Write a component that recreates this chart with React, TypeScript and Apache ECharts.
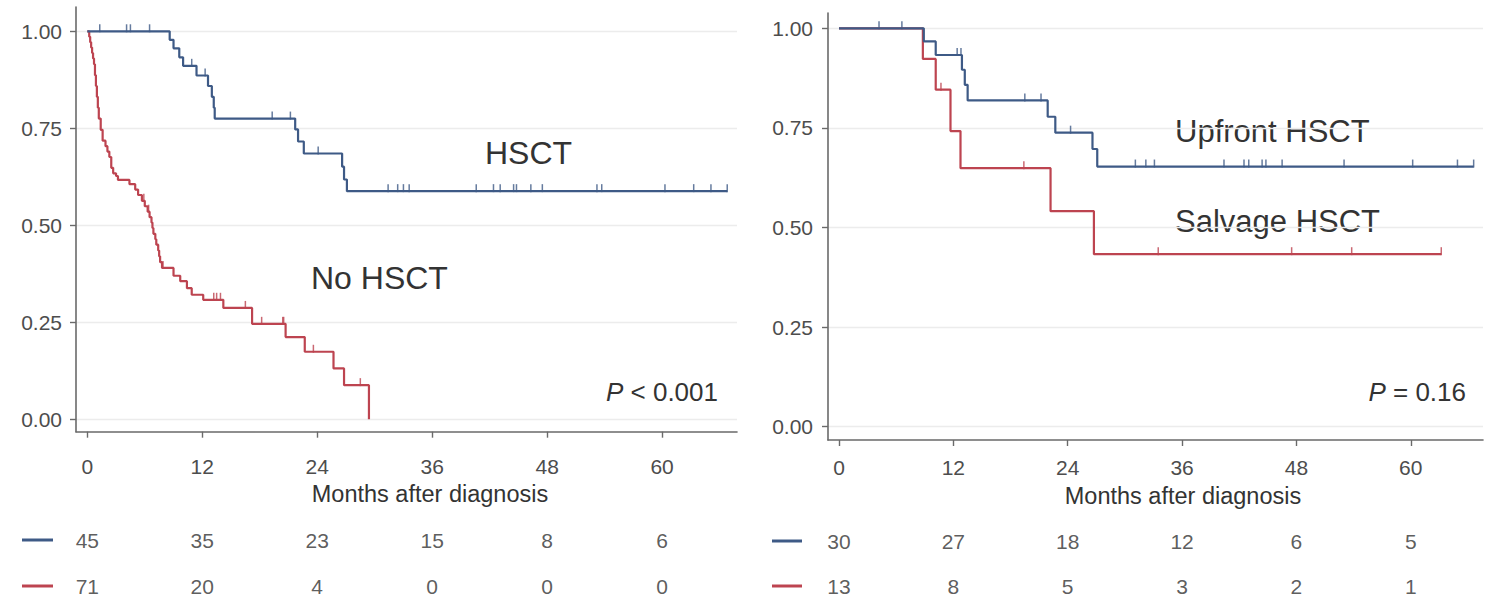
import React, { useEffect, useRef } from "react";
import * as echarts from "echarts";

const monthTicks = [0, 12, 24, 36, 48, 60];
const survTicks = [0, 0.25, 0.5, 0.75, 1];

// Left panel: HSCT vs No HSCT
const hsctT = [0, 8.6, 9.0, 9.6, 10.0, 11.4, 12.6, 13.0, 13.2, 13.3, 21.7, 22.0, 22.6, 26.6, 26.8, 27.1, 66.8];
const hsctS = [1, 0.978, 0.956, 0.933, 0.911, 0.886, 0.859, 0.831, 0.803, 0.775, 0.747, 0.716, 0.685, 0.651, 0.618, 0.588, 0.588];
const hsctCensor = [1.3, 4.1, 4.5, 6.5, 10.9, 12.3, 19.3, 21.2, 24.1, 31.4, 32.4, 33.0, 33.6, 40.6, 42.4, 43.1, 44.5, 44.8, 46.3, 47.5, 53.2, 53.7, 60.3, 63.3, 65.1, 66.8];

const noHsctT = [0, 0.2, 0.3, 0.4, 0.5, 0.6, 0.7, 0.8, 0.9, 1.0, 1.1, 1.2, 1.4, 1.6, 1.9, 2.1, 2.3, 2.5, 2.7, 3.0, 3.2, 4.4, 5.0, 5.3, 5.7, 6.0, 6.3, 6.5, 6.7, 6.8, 6.9, 7.1, 7.2, 7.4, 7.5, 7.6, 7.8, 9.0, 9.7, 10.4, 10.9, 12.1, 14.2, 17.2, 20.7, 22.7, 25.7, 26.8, 29.4];
const noHsctS = [1, 0.986, 0.972, 0.958, 0.944, 0.93, 0.915, 0.887, 0.859, 0.831, 0.803, 0.775, 0.746, 0.718, 0.704, 0.69, 0.676, 0.648, 0.634, 0.627, 0.617, 0.606, 0.592, 0.578, 0.563, 0.549, 0.535, 0.521, 0.507, 0.493, 0.478, 0.464, 0.45, 0.435, 0.42, 0.405, 0.39, 0.37, 0.356, 0.338, 0.321, 0.308, 0.287, 0.246, 0.212, 0.174, 0.131, 0.088, 0];
const noHsctCensor = [5.9, 6.4, 7.9, 13.2, 13.5, 13.9, 16.5, 18.2, 20.4, 20.5, 23.6, 28.5];

// Right panel: Upfront vs Salvage HSCT
const upfrontT = [0, 8.9, 10.15, 12.9, 13.2, 13.5, 21.9, 22.7, 26.6, 27.1, 66.6];
const upfrontS = [1, 0.967, 0.933, 0.896, 0.858, 0.819, 0.778, 0.738, 0.697, 0.653, 0.653];
const upfrontCensor = [4.2, 6.6, 12.4, 12.8, 19.5, 21.2, 24.3, 31.1, 32.2, 33.1, 40.4, 42.5, 43.0, 44.4, 44.8, 46.5, 53.0, 60.2, 64.9, 66.6];

const salvageT = [0, 8.8, 10.15, 11.7, 12.75, 22.2, 26.75, 63.2];
const salvageS = [1, 0.923, 0.846, 0.742, 0.649, 0.541, 0.433, 0.433];
const salvageCensor = [10.7, 19.4, 33.5, 47.5, 53.8, 63.2];

// Numbers at risk
const riskHsct = [45, 35, 23, 15, 8, 6];
const riskNoHsct = [71, 20, 4, 0, 0, 0];
const riskUpfront = [30, 27, 18, 12, 6, 5];
const riskSalvage = [13, 8, 5, 3, 2, 1];

const BLUE = "#3e5a86";
const RED = "#bd4450";
const FONT = "'Liberation Sans', Arial, sans-serif";
const AXIS = "#6a6a6a";

function pairs(t: number[], s: number[]) {
  return t.map((x, i) => [x, s[i]]);
}
function survAt(t: number[], s: number[], x: number) {
  let v = s[0];
  for (let i = 0; i < t.length; i++) if (t[i] <= x) v = s[i];
  return v;
}
function censorPts(c: number[], t: number[], s: number[]) {
  return c.map((x) => [x, survAt(t, s, x)]);
}

function xAxisPlot(gridIndex: number, min: number, max: number, margin: number) {
  return {
    type: "value",
    gridIndex,
    min,
    max,
    axisLine: { show: true, onZero: false, lineStyle: { color: AXIS, width: 1.6 } },
    axisTick: { show: true, length: 6, customValues: monthTicks, lineStyle: { color: AXIS, width: 1.4 } },
    axisLabel: { show: true, customValues: monthTicks, margin, fontSize: 21, color: "#4d4d4d", fontFamily: FONT },
    splitLine: { show: false },
  };
}
function yAxisPlot(gridIndex: number, min: number, max: number, margin: number) {
  return {
    type: "value",
    gridIndex,
    min,
    max,
    axisLine: { show: true, onZero: false, lineStyle: { color: AXIS, width: 1.6 } },
    axisTick: { show: true, length: 6, customValues: survTicks, lineStyle: { color: AXIS, width: 1.4 } },
    axisLabel: {
      show: true,
      customValues: survTicks,
      margin,
      fontSize: 21,
      color: "#4d4d4d",
      fontFamily: FONT,
      formatter: (v: number) => v.toFixed(2),
    },
    splitLine: { show: true, lineStyle: { color: "#ececec", width: 1.3 } },
  };
}
function xAxisRisk(gridIndex: number, min: number, max: number) {
  return { type: "value", gridIndex, min, max, show: false };
}
function yAxisRisk(gridIndex: number) {
  return { type: "value", gridIndex, min: 0, max: 1, show: false };
}
function curve(name: string, xi: number, t: number[], s: number[], color: string) {
  return {
    name,
    type: "line",
    xAxisIndex: xi,
    yAxisIndex: xi,
    step: "end",
    showSymbol: false,
    data: pairs(t, s),
    lineStyle: { color, width: 2.2 },
    itemStyle: { color },
    silent: true,
  };
}
function censor(name: string, xi: number, c: number[], t: number[], s: number[], color: string) {
  return {
    name,
    type: "scatter",
    xAxisIndex: xi,
    yAxisIndex: xi,
    symbol: "rect",
    symbolSize: [1.5, 8],
    symbolOffset: [0, -3],
    data: censorPts(c, t, s),
    itemStyle: { color },
    silent: true,
  };
}
// rowPos: vertical position of the row within the risk-table grid (0 bottom, 1 top)
function riskRow(xi: number, rowPos: number, vals: number[]) {
  return {
    type: "scatter",
    xAxisIndex: xi,
    yAxisIndex: xi,
    symbolSize: 0,
    data: monthTicks.map((m, i) => [m, rowPos, vals[i]]),
    label: {
      show: true,
      position: "inside",
      formatter: (p: any) => String(p.value[2]),
      fontSize: 21,
      color: "#333",
      fontFamily: FONT,
    },
    silent: true,
  };
}
function txt(x: number, y: number, text: string, size: number, align: string, rich?: any) {
  return {
    type: "text",
    x,
    y,
    style: {
      text,
      fontSize: size,
      fontFamily: FONT,
      fill: "#333",
      align,
      verticalAlign: "middle",
      rich,
    },
  };
}

export default function App() {
  const ref = useRef<HTMLDivElement>(null);
  useEffect(() => {
    if (!ref.current) return;
    const chart = echarts.init(ref.current, null, { renderer: "svg" });
    const italic = { i: { fontStyle: "italic", fontSize: 26, fontFamily: FONT, fill: "#333" } };
    chart.setOption({
      animation: false,
      backgroundColor: "#ffffff",
      textStyle: { fontFamily: FONT },
      grid: [
        { left: 76, top: 7, width: 661, height: 424.7 },
        { left: 828, top: 13, width: 655, height: 427 },
        { left: 76, top: 500, width: 661, height: 100 },
        { left: 828, top: 500, width: 655, height: 100 },
      ],
      xAxis: [
        xAxisPlot(0, -1.18, 67.82, 24),
        xAxisPlot(1, -1.154, 67.58, 17),
        xAxisRisk(2, -1.18, 67.82),
        xAxisRisk(3, -1.154, 67.58),
      ],
      yAxis: [
        yAxisPlot(0, -0.032, 1.0626, 14),
        yAxisPlot(1, -0.0334, 1.0384, 15),
        yAxisRisk(2),
        yAxisRisk(3),
      ],
      series: [
        curve("No HSCT", 0, noHsctT, noHsctS, RED),
        censor("No HSCT censored", 0, noHsctCensor, noHsctT, noHsctS, RED),
        curve("HSCT", 0, hsctT, hsctS, BLUE),
        censor("HSCT censored", 0, hsctCensor, hsctT, hsctS, BLUE),
        curve("Salvage HSCT", 1, salvageT, salvageS, RED),
        censor("Salvage censored", 1, salvageCensor, salvageT, salvageS, RED),
        curve("Upfront HSCT", 1, upfrontT, upfrontS, BLUE),
        censor("Upfront censored", 1, upfrontCensor, upfrontT, upfrontS, BLUE),
        riskRow(2, 0.6, riskHsct),
        riskRow(2, 0.14, riskNoHsct),
        riskRow(3, 0.59, riskUpfront),
        riskRow(3, 0.14, riskSalvage),
      ],
      graphic: [
        txt(485, 153, "HSCT", 32, "left"),
        txt(311, 278, "No HSCT", 32, "left"),
        txt(718, 392, "{i|P} < 0.001", 26, "right", italic),
        txt(1175, 131, "Upfront HSCT", 31, "left"),
        txt(1175, 221, "Salvage HSCT", 31, "left"),
        txt(1466, 392, "{i|P} = 0.16", 26, "right", italic),
        txt(430, 494, "Months after diagnosis", 23.5, "center"),
        txt(1183, 496, "Months after diagnosis", 23.5, "center"),
        { type: "line", shape: { x1: 22, y1: 540, x2: 53, y2: 540 }, style: { stroke: BLUE, lineWidth: 3 } },
        { type: "line", shape: { x1: 22, y1: 586, x2: 53, y2: 586 }, style: { stroke: RED, lineWidth: 3 } },
        { type: "line", shape: { x1: 772, y1: 541, x2: 802, y2: 541 }, style: { stroke: BLUE, lineWidth: 3 } },
        { type: "line", shape: { x1: 772, y1: 586, x2: 802, y2: 586 }, style: { stroke: RED, lineWidth: 3 } },
      ],
    });
    return () => chart.dispose();
  }, []);
  return (
    <div
      ref={ref}
      style={{ position: "fixed", left: 0, top: 0, width: 1491, height: 600, background: "#fff" }}
    />
  );
}
